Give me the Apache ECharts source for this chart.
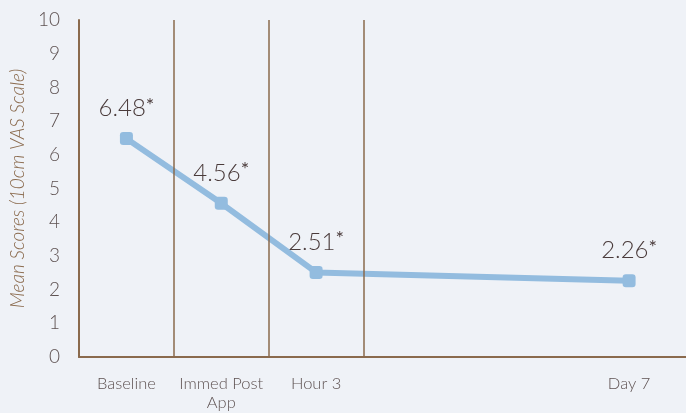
<!DOCTYPE html>
<html>
<head>
<meta charset="utf-8">
<script src="https://cdn.jsdelivr.net/npm/echarts@6/dist/echarts.min.js"></script>
<style>
  html, body { margin: 0; padding: 0; background: #eff2f7; }
  #chart { width: 686px; height: 413px; }
</style>
</head>
<body>
<div id="chart"></div>
<script>
// Time points and their places along the horizontal scale
var categories = ['Baseline', 'Immed Post\nApp', 'Hour 3', 'Day 7'];
var timePositions = [0.5, 1.5, 2.5, 5.8];
// Mean VAS scores at each time point
var meanScores = [6.48, 4.56, 2.51, 2.26];
// Dividers between the early time points
var dividers = [1, 2, 3];
// Y axis ticks
var yTicks = [0, 1, 2, 3, 4, 5, 6, 7, 8, 9, 10];

var brown = '#8a6a4d';
var labelColor = '#5e5252';
var font = 'Lato';

var chart = echarts.init(document.getElementById('chart'));

chart.setOption({
  backgroundColor: '#eff2f7',
  animation: false,
  grid: { left: 78, right: 0, top: 20, bottom: 56 },
  xAxis: {
    type: 'value',
    min: 0,
    max: 6.4,
    axisLine: { show: true, lineStyle: { color: brown, width: 2 } },
    axisTick: { show: false },
    splitLine: { show: false },
    axisLabel: {
      customValues: timePositions,
      formatter: function (v) {
        var i = timePositions.indexOf(v);
        return i >= 0 ? categories[i] : '';
      },
      color: labelColor,
      fontFamily: font,
      fontWeight: 300,
      fontSize: 16.5,
      lineHeight: 19,
      margin: 17
    }
  },
  yAxis: {
    type: 'value',
    min: yTicks[0],
    max: yTicks[yTicks.length - 1],
    interval: 1,
    name: 'Mean Scores (10cm VAS Scale)',
    nameLocation: 'middle',
    nameGap: 52,
    nameTextStyle: {
      color: brown,
      fontStyle: 'italic',
      fontFamily: font,
      fontWeight: 300,
      fontSize: 19
    },
    axisLine: { show: true, lineStyle: { color: brown, width: 2 } },
    axisTick: { show: false },
    splitLine: { show: false },
    axisLabel: {
      color: labelColor,
      fontFamily: font,
      fontWeight: 300,
      fontSize: 19,
      margin: 19
    }
  },
  series: [{
    type: 'line',
    data: timePositions.map(function (x, i) { return [x, meanScores[i]]; }),
    symbol: 'roundRect',
    symbolSize: 13,
    lineStyle: { color: '#93bcdf', width: 6 },
    itemStyle: { color: '#93bcdf' },
    label: {
      show: true,
      position: 'top',
      distance: 11,
      formatter: function (p) {
        return '{v|' + p.value[1].toFixed(2) + '}{s|*}';
      },
      rich: {
        v: { color: '#4a3b3b', fontFamily: font, fontWeight: 300, fontSize: 24 },
        s: { color: '#4a3b3b', fontFamily: font, fontWeight: 'normal', fontSize: 20, verticalAlign: 'top', padding: [0, 0, 6, 0] }
      }
    },
    markLine: {
      silent: true,
      symbol: 'none',
      label: { show: false },
      lineStyle: { color: brown, width: 1.5, type: 'solid' },
      data: dividers.map(function (d) { return { xAxis: d }; })
    },
    z: 3
  }]
});
</script>
</body>
</html>
